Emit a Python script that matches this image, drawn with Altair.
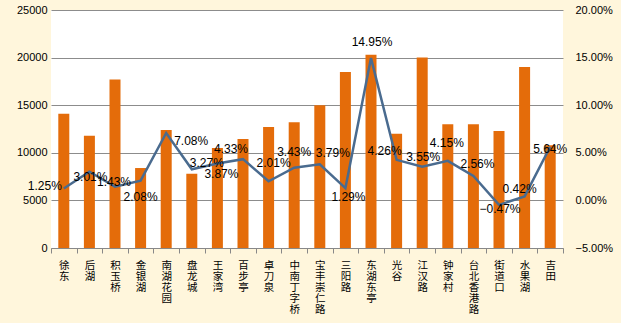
import altair as alt
import pandas as pd

stations = ["徐东", "后湖", "积玉桥", "金银湖", "南湖花园", "盘龙城", "王家湾", "百步亭", "卓刀泉", "中南丁字桥",
            "宝丰崇仁路", "三阳路", "东湖东亭", "光谷", "江汉路", "钟家村", "台北香港路", "街道口", "水果湖", "吉田"]
prices = [14100, 11800, 17700, 8400, 12400, 7800, 10500, 11450, 12700, 13200,
          15000, 18500, 20300, 12000, 20000, 13000, 13000, 12300, 19000, 10800]
growth = [1.25, 3.01, 1.43, 2.08, 7.08, 3.27, 3.87, 4.33, 2.01, 3.43,
          3.79, 1.29, 14.95, 4.26, 3.55, 4.15, 2.56, -0.47, 0.42, 5.64]

# label placement (pixel offsets from the point) - style only
label_dx = [-19, 1, -1, 0, 25, 15, 4, -12, 5, 0, 13, 3, 1, -12, 1, -1, 4, 1, -5, 0]
label_dy = [-3, 5, -5, 16, 8, -6, 10, -10, -18, -16, -11, 9, -16, -9, -10, -18, -12, 4, -7, 2]

PLOT_W, PLOT_H = 512, 238
half_band = PLOT_W / len(stations) / 2
px_per_pct = PLOT_H / 25.0

df = pd.DataFrame({"station": stations, "price": prices, "pct": growth,
                   "dx": label_dx, "dy": label_dy})

xenc = alt.X("station:N", sort=stations, title=None,
             scale=alt.Scale(paddingInner=0, paddingOuter=0),
             axis=alt.Axis(labelAngle=0, labelExpr="split(datum.label, '')",
                           labelFont="Noto Sans CJK SC", labelFontSize=10.5, labelLineHeight=11,
                           labelBaseline="top", labelPadding=7, labelColor="#000",
                           tickBand="extent", tickSize=5, tickColor="#888", domainColor="#888",
                           grid=False))

bars = alt.Chart(df).mark_bar(color="#E46C0A", size=11).encode(
    x=xenc,
    y=alt.Y("price:Q", title=None, scale=alt.Scale(domain=[0, 25000], nice=False),
            axis=alt.Axis(values=[0, 5000, 10000, 15000, 20000, 25000], grid=True, format="d",
                          gridColor="#8C8C8C", domain=False, ticks=False, labelPadding=4,
                          labelFont="Liberation Sans", labelFontSize=11, labelColor="#000")),
)

line = alt.Chart(df).mark_line(color="#4A6B8F", strokeWidth=2.5).encode(
    x=alt.X("station:N", sort=stations),
    y=alt.Y("pct:Q", title=None, scale=alt.Scale(domain=[-5, 20], nice=False),
            axis=alt.Axis(orient="right", values=[-5, 0, 5, 10, 15, 20], grid=False,
                          domain=False, ticks=False, labelPadding=12,
                          labelExpr="format(datum.value, '.2f') + '%'",
                          labelFont="Liberation Sans", labelFontSize=11, labelColor="#000")),
)

labels = alt.Chart(df).transform_calculate(
    txt="format(datum.pct, '.2f') + '%'",
    xo=f"datum.dx + {half_band}",
    ly=f"datum.pct - datum.dy / {px_per_pct}",
).mark_text(font="Liberation Sans", fontSize=12, color="#000", baseline="middle", align="center").encode(
    x=alt.X("station:N", sort=stations),
    y=alt.Y("ly:Q", scale=alt.Scale(domain=[-5, 20], nice=False), axis=None),
    xOffset=alt.XOffset("xo:Q", scale=None),
    text="txt:N",
)

chart = alt.layer(bars, line, labels).resolve_scale(y="independent").properties(
    width=PLOT_W, height=PLOT_H,
    autosize=alt.AutoSizeParams(type="none"),
    padding={"left": 51, "top": 10, "right": 58, "bottom": 75},
    background="#FFF6DC",
).configure_view(fill="#FFFFFF", stroke=None)

chart.save("out.html", embed_options={"renderer": "svg", "actions": False})
